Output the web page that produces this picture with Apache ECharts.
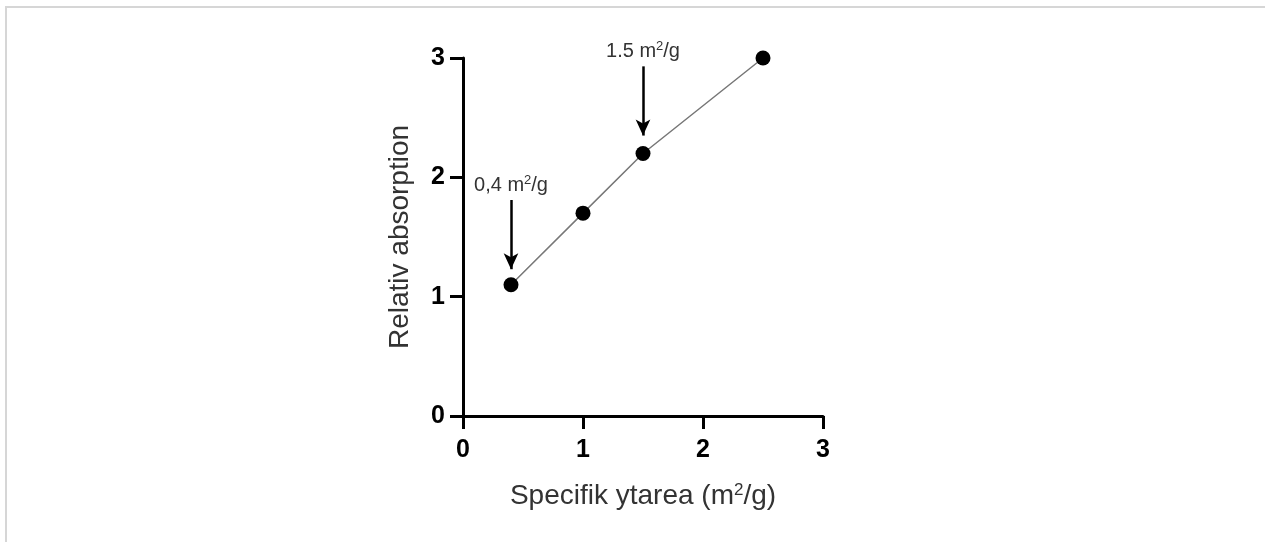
<!DOCTYPE html>
<html lang="sv" style="height: 100%">
<head>
    <meta charset="utf-8">
    <style>
        #frame {
            position: absolute; left: 5px; top: 6px; width: 1400px; height: 700px;
            border-top: 2px solid #d6d6d6; border-left: 2px solid #d6d6d6;
        }
    </style>
</head>
<body style="height: 100%; margin: 0; background: #fff; overflow: hidden">
<div id="frame"></div>
<div id="container" style="position: absolute; left: 0; top: 0; width: 1265px; height: 542px"></div>

<script type="text/javascript" src="https://cdn.jsdelivr.net/npm/echarts@6/dist/echarts.min.js"></script>
<script type="text/javascript">
    // mätpunkter
    var xValues = [0.4, 1.0, 1.5, 2.5];
    var yValues = [1.1, 1.7, 2.2, 3.0];
    var axisTicks = [0, 1, 2, 3];
    // pilar: x, topp, spets, text
    var arrowX = [0.4, 1.5];
    var arrowTop = [1.81, 2.93];
    var arrowTip = [1.23, 2.35];
    var arrowText = ['0,4 m{sup|2}/g', '1.5 m{sup|2}/g'];

    var font = 'Arial, "Liberation Sans", sans-serif';
    var dom = document.getElementById('container');
    var myChart = echarts.init(dom, null, { renderer: 'canvas' });

    var points = xValues.map(function (x, i) { return [x, yValues[i]]; });
    var arrows = arrowX.map(function (x, i) {
        return [
            { coord: [x, arrowTop[i]], label: { formatter: arrowText[i] } },
            { coord: [x, arrowTip[i]] }
        ];
    });

    var axisCommon = {
        type: 'value',
        min: axisTicks[0],
        max: axisTicks[axisTicks.length - 1],
        interval: 1,
        splitLine: { show: false },
        axisLine: { show: true, lineStyle: { color: '#000', width: 3 } },
        axisTick: { show: true, length: 13, lineStyle: { color: '#000', width: 3 } },
        nameTextStyle: { color: '#333', fontFamily: font, fontSize: 28,
            rich: { sup: { fontSize: 17, verticalAlign: 'top', padding: [0, 0, 12, 0], color: '#333', fontFamily: font } } }
    };

    var option = {
        backgroundColor: 'transparent',
        animation: false,
        grid: { left: 463, right: 442, top: 58, bottom: 126, containLabel: false },
        xAxis: Object.assign({}, axisCommon, {
            name: 'Specifik ytarea (m{sup|2}/g)',
            nameLocation: 'middle',
            nameGap: 66,
            axisLabel: { color: '#000', fontWeight: 'bold', fontSize: 25, fontFamily: font, margin: 22 }
        }),
        yAxis: Object.assign({}, axisCommon, {
            name: 'Relativ absorption',
            nameLocation: 'middle',
            nameGap: 49,
            axisLabel: { color: '#000', fontWeight: 'bold', fontSize: 25, fontFamily: font, margin: 18 }
        }),
        series: [{
            type: 'line',
            data: points,
            symbol: 'circle',
            symbolSize: 15,
            itemStyle: { color: '#000' },
            lineStyle: { color: '#777', width: 1.5 },
            markLine: {
                silent: true,
                symbol: ['none', 'arrow'],
                symbolSize: [11, 16],
                lineStyle: { color: '#000', width: 2.5, type: 'solid' },
                label: {
                    show: true,
                    position: 'start',
                    distance: 4,
                    color: '#333',
                    fontFamily: font,
                    fontSize: 20,
                    rich: { sup: { fontSize: 13, verticalAlign: 'top', padding: [0, 0, 9, 0], color: '#333', fontFamily: font } }
                },
                data: arrows
            }
        }]
    };

    myChart.setOption(option);
    window.addEventListener('resize', myChart.resize);
</script>
</body>
</html>
